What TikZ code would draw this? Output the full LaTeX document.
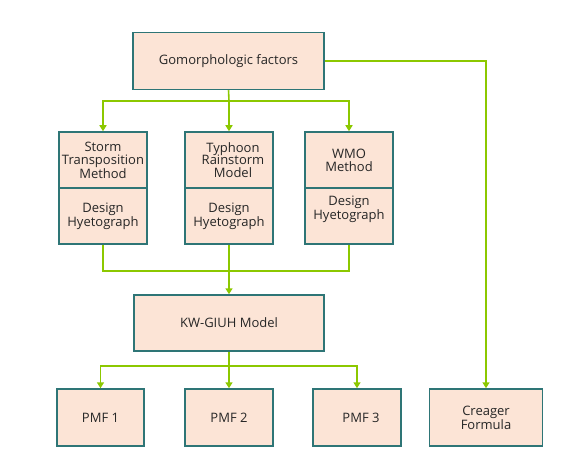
\documentclass[tikz,border=0pt]{standalone}
\usepackage{fontspec}
\setmainfont{Open Sans}
\usetikzlibrary{arrows.meta}
\definecolor{boxfill}{RGB}{252,228,214}
\definecolor{boxline}{RGB}{46,117,118}
\definecolor{conn}{RGB}{140,200,0}
\begin{document}
\begin{tikzpicture}[x=1pt,y=-1pt,
  txt/.style={inner sep=0pt,align=center,font=\fontsize{13}{12.8}\selectfont,text=black!85},
  box/.style={txt,draw=boxline,fill=boxfill,line width=1.5pt,inner sep=1pt},
  conline/.style={draw=conn,line width=1.6pt},
  arr/.style={conline,-{Triangle[length=6pt,width=7pt]}}]
\useasboundingbox (0,0) rectangle (585,470);
% top
\node[box,minimum width=191pt,minimum height=57pt] (top) at (228.5,61) {Gomorphologic factors};
% method boxes
\node[box,minimum width=88pt,minimum height=56pt] (s1) at (103,160) {Storm\\Transposition\\Method};
\node[box,minimum width=88pt,minimum height=56pt] (h1) at (103,216) {Design\\Hyetograph};
\node[box,minimum width=88pt,minimum height=56pt] (s2) at (229,160) {};
\node[txt] (s2t) at ([xshift=4pt]s2.center) {Typhoon\\Rainstorm\\Model};
\node[box,minimum width=88pt,minimum height=56pt] (h2) at (229,216) {Design\\Hyetograph};
\node[box,minimum width=88pt,minimum height=56pt] (s3) at (349,160) {WMO\\Method};
\node[box,minimum width=88pt,minimum height=56pt] (h3) at (349,216) {};
\node[txt] (h3t) at ([yshift=7pt]h3.center) {Design\\Hyetograph};
% KW-GIUH
\node[box,minimum width=190pt,minimum height=56pt] (kw) at (229,323) {KW-GIUH Model};
% PMF
\node[box,minimum width=87pt,minimum height=57pt] (p1) at (100.5,417.5) {PMF 1};
\node[box,minimum width=88pt,minimum height=57pt] (p2) at (229,417.5) {PMF 2};
\node[box,minimum width=88pt,minimum height=57pt] (p3) at (357,417.5) {};
\node[txt] (p3t) at ([xshift=4pt]p3.center) {PMF 3};
\node[box,minimum width=113pt,minimum height=57pt] (cr) at (486,417.5) {Creager\\Formula};
% connectors from top
\coordinate (tb) at (229,101);
\draw[conline] (top.south) -- (tb);
\draw[arr] (tb) -| (s1.north);
\draw[arr] (tb) -- (s2.north);
\draw[arr] (tb) -| (s3.north);
\draw[arr] (top.east) -| (cr.north);
% to KW
\coordinate (mb) at (229,271);
\draw[conline] (h1.south) |- (mb);
\draw[conline] (h3.south) |- (mb);
\draw[arr] (h2.south) -- (kw.north);
% from KW
\coordinate (kb) at (229,366);
\draw[conline] (kw.south) -- (kb);
\draw[arr] (kb) -| (p1.north);
\draw[arr] (kb) -- (p2.north);
\draw[arr] (kb) -| (p3.north);
\end{tikzpicture}
\end{document}
